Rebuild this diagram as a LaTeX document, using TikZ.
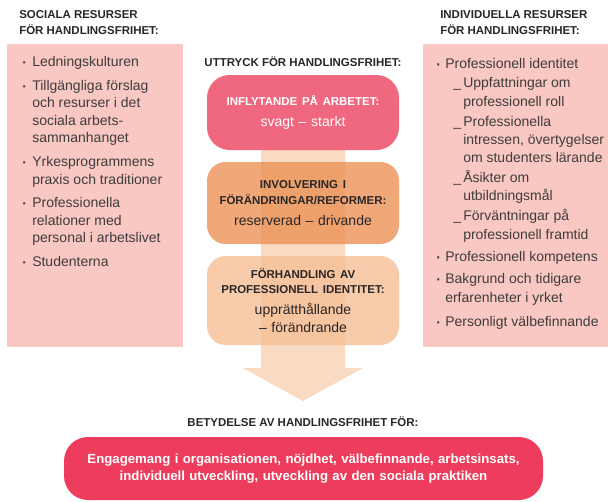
\documentclass[tikz,border=0pt]{standalone}
\usepackage{fontspec}
\setmainfont{Liberation Sans}
\definecolor{sidepink}{HTML}{F9C8C2}
\definecolor{inflpink}{HTML}{F06880}
\definecolor{involorange}{HTML}{EC9256}
\definecolor{forhpeach}{HTML}{F6BF95}
\definecolor{arrowpeach}{HTML}{F9DAC3}
\definecolor{resultred}{HTML}{EE3D5C}
\definecolor{ink}{HTML}{2A2627}
\def\headfont{\fontsize{8.6}{11.6}\selectfont\bfseries}
\def\bodyfont{\fontsize{10.5}{13.2}\selectfont}
\def\bul#1{\makebox[#1][l]{\raisebox{-0.8pt}{\textbf{·}}}}

\begin{document}
\begin{tikzpicture}[x=0.75pt, y=-0.75pt,
	heading/.style={font=\headfont, text=ink, inner sep=0pt, align=left},
	itemlist/.style={font=\bodyfont, text=ink!90, inner sep=0pt, align=left, anchor=base west},
	stage/.style={inner sep=0pt, text width=135pt, align=center, minimum width=144pt,
		rounded corners=14pt, font=\bodyfont, text=ink, text opacity=1}]
	%%%%% START %%%%%
	\useasboundingbox (0,0) rectangle (608,501);
	
	\fill[sidepink] (7,44) rectangle (183,347);
	\fill[sidepink] (423,44) rectangle (608,347);
	
	% multi-line nodes sit on the baseline of their last line
	\node[heading, anchor=base west] (socialhead) at (19,34) {SOCIALA RESURSER\\FÖR HANDLINGSFRIHET:};
	\node[heading, anchor=base west] (indivhead) at (440,34) {INDIVIDUELLA RESURSER\\FÖR HANDLINGSFRIHET:};
	\node[heading, anchor=base] (exprhead) at (303,66) {UTTRYCK FÖR HANDLINGSFRIHET:};
	\node[heading, anchor=base] (effecthead) at (303,426) {BETYDELSE AV HANDLINGSFRIHET FÖR:};
	
	\node[itemlist] (sociallist) at (22,266.5) {%
		\bul{7.5pt}Ledningskulturen\\[4.5pt]
		\bul{7.5pt}Tillgängliga förslag\\
		\hspace*{7.5pt}och resurser i det\\
		\hspace*{7.5pt}sociala arbets-\\
		\hspace*{7.5pt}sammanhanget\\[4.5pt]
		\bul{7.5pt}Yrkesprogrammens\\
		\hspace*{7.5pt}praxis och traditioner\\[4.5pt]
		\bul{7.5pt}Professionella\\
		\hspace*{7.5pt}relationer med\\
		\hspace*{7.5pt}personal i arbetslivet\\[4.5pt]
		\bul{7.5pt}Studenterna};
	
	\node[itemlist, font=\fontsize{10.5}{13.8}\selectfont] (indivlist) at (436,326) {%
		\bul{6.75pt}Professionell identitet\\[1pt]
		\hspace*{12.75pt}\makebox[7.5pt][l]{\_}Uppfattningar om\\
		\hspace*{20.25pt}professionell roll\\[1pt]
		\hspace*{12.75pt}\makebox[7.5pt][l]{\_}Professionella\\
		\hspace*{20.25pt}intressen, övertygelser\\
		\hspace*{20.25pt}om studenters lärande\\[1pt]
		\hspace*{12.75pt}\makebox[7.5pt][l]{\_}Åsikter om\\
		\hspace*{20.25pt}utbildningsmål\\[1pt]
		\hspace*{12.75pt}\makebox[7.5pt][l]{\_}Förväntningar på\\
		\hspace*{20.25pt}professionell framtid\\[3pt]
		\bul{6.75pt}Professionell kompetens\\[3pt]
		\bul{6.75pt}Bakgrund och tidigare\\
		\hspace*{6.75pt}erfarenheter i yrket\\[4pt]
		\bul{6.75pt}Personligt välbefinnande};
	
	% big arrow behind the stages
	\fill[arrowpeach] (261,150) -- (345,150) -- (345,368) -- (363,368) -- (303,401) -- (243,368) -- (261,368) -- cycle;
	
	\node[stage, fill=inflpink, minimum height=56.25pt, rounded corners=17pt, text=white] (influence) at (303,112.5)
		{{\headfont INFLYTANDE PÅ ARBETET:\par}\vspace{2.5pt}svagt – starkt};
	\node[stage, fill=involorange, fill opacity=0.8, minimum height=61.5pt] (involvement) at (303,203)
		{{\headfont INVOLVERING I\\FÖRÄNDRINGAR/REFORMER:\par}\vspace{2.5pt}reserverad – drivande};
	\node[stage, fill=forhpeach, fill opacity=0.8, minimum height=66.75pt] (negotiation) at (303,300.5)
		{{\headfont FÖRHANDLING AV\\PROFESSIONELL IDENTITET:\par}\vspace{2.5pt}upprätthållande\\– förändrande};
	
	\node[stage, fill=resultred, minimum width=359.25pt, minimum height=47.25pt, text width=355pt,
		rounded corners=18pt, text=white, font=\fontsize{9.9}{12.8}\selectfont\bfseries] (outcome) at (303.5,468.5)
		{Engagemang i organisationen, nöjdhet, välbefinnande, arbetsinsats,\\individuell utveckling, utveckling av den sociala praktiken};
	
	%%%%% END %%%%%
\end{tikzpicture}
\end{document}
